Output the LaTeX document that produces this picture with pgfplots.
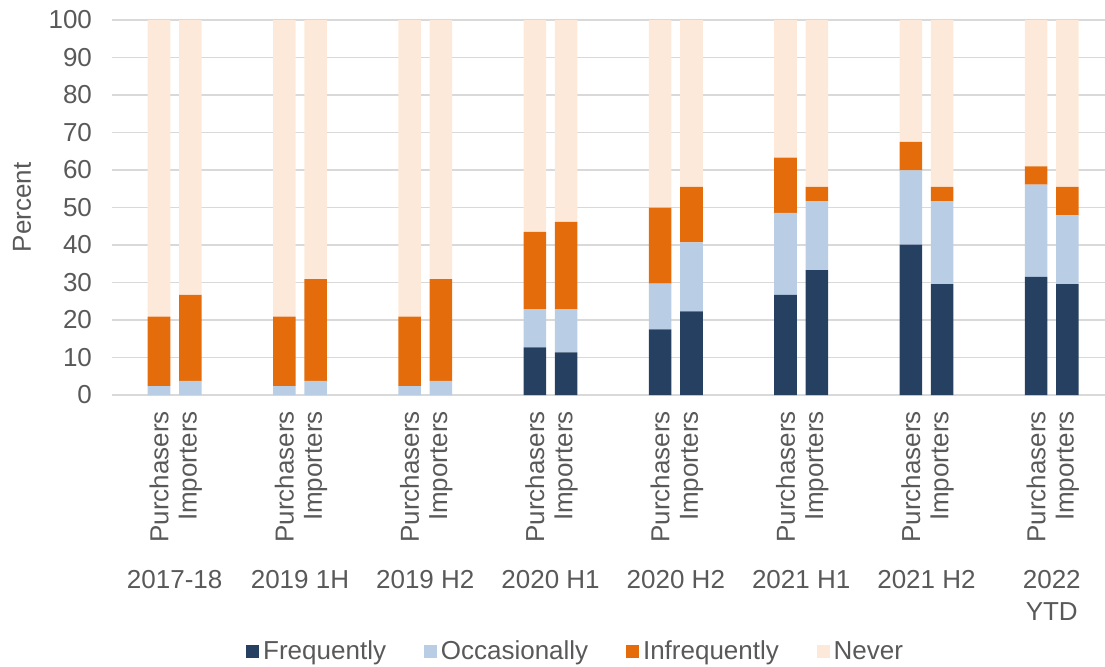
\documentclass[border=0pt]{standalone}
\usepackage{pgfplots}
\pgfplotsset{compat=1.18}
\usepackage{pgfplotstable}
\usepackage{fontspec}
\setmainfont{Liberation Sans}

\definecolor{freqc}{HTML}{264061}
\definecolor{occc}{HTML}{B9CDE5}
\definecolor{infc}{HTML}{E46C0A}
\definecolor{neverc}{HTML}{FDE9D9}
\definecolor{gridc}{HTML}{D9D9D9}
\definecolor{textc}{HTML}{595959}

% x: bar position (group index -/+ 0.125 for purchasers/importers)
\pgfplotstableread{
x      freq  occ   inf   never
-0.125 0     2.4   18.5  79.1
0.125  0     3.8   22.9  73.3
0.875  0     2.4   18.5  79.1
1.125  0     3.8   27.1  69.1
1.875  0     2.4   18.5  79.1
2.125  0     3.8   27.1  69.1
2.875  12.7  10.2  20.6  56.5
3.125  11.4  11.5  23.3  53.8
3.875  17.5  12.2  20.3  50.0
4.125  22.3  18.4  14.8  44.5
4.875  26.7  21.9  14.7  36.7
5.125  33.3  18.4  3.8   44.5
5.875  40.1  19.8  7.6   32.5
6.125  29.6  22.1  3.8   44.5
6.875  31.5  24.6  4.9   39.0
7.125  29.6  18.3  7.6   44.5
}\data

\begin{document}
\begin{tikzpicture}[font=\fontsize{13}{16}\selectfont]
\begin{axis}[
  scale only axis,
  width=496.5pt, height=187.5pt,
  xmin=-0.5, xmax=7.425, ymin=0, ymax=100,
  ybar stacked, bar width=0.18,
  clip=false,
  axis line style={draw=none},
  major tick length=0pt,
  ymajorgrids,
  grid style={gridc, line width=0.75pt},
  ytick={0,10,...,100},
  xtick={-0.125,0.125,0.875,1.125,1.875,2.125,2.875,3.125,3.875,4.125,4.875,5.125,5.875,6.125,6.875,7.125},
  xticklabels={Purchasers,Importers,Purchasers,Importers,Purchasers,Importers,Purchasers,Importers,Purchasers,Importers,Purchasers,Importers,Purchasers,Importers,Purchasers,Importers},
  xticklabel style={rotate=90, anchor=east, text=textc, font=\fontsize{13}{16}\selectfont},
  xticklabel shift=4.5pt,
  yticklabel style={text=textc, font=\fontsize{13}{16}\selectfont},
  yticklabel shift=6.5pt,
  /pgf/number format/assume math mode=true,
  legend columns=4,
  legend style={at={(0.468,-0.685)}, anchor=center, draw=none, fill=none,
    text=textc, font=\fontsize{13}{16}\selectfont,
    /tikz/every even column/.append style={column sep=17pt}},
  legend image code/.code={\fill[#1] (0pt,-3.2pt) rectangle (6.4pt,3.2pt);},
]
\addplot[fill=freqc, draw=none] table[x=x, y=freq] {\data};
\addplot[fill=occc, draw=none] table[x=x, y=occ] {\data};
\addplot[fill=infc, draw=none] table[x=x, y=inf] {\data};
\addplot[fill=neverc, draw=none] table[x=x, y=never] {\data};
\legend{Frequently, Occasionally, Infrequently, Never}

\node[anchor=north, align=center, inner sep=0pt, text=textc] at (axis cs:0,-46.7) {2017-18};
\node[anchor=north, align=center, inner sep=0pt, text=textc] at (axis cs:1,-46.7) {2019 1H};
\node[anchor=north, align=center, inner sep=0pt, text=textc] at (axis cs:2,-46.7) {2019 H2};
\node[anchor=north, align=center, inner sep=0pt, text=textc] at (axis cs:3,-46.7) {2020 H1};
\node[anchor=north, align=center, inner sep=0pt, text=textc] at (axis cs:4,-46.7) {2020 H2};
\node[anchor=north, align=center, inner sep=0pt, text=textc] at (axis cs:5,-46.7) {2021 H1};
\node[anchor=north, align=center, inner sep=0pt, text=textc] at (axis cs:6,-46.7) {2021 H2};
\node[anchor=north, align=center, inner sep=0pt, text=textc] at (axis cs:7,-46.7) {2022\\YTD};
\node[rotate=90, anchor=center, text=textc] at ([xshift=-45pt]rel axis cs:0,0.5) {Percent};

\coordinate (ll) at (rel axis cs:0,0);
\coordinate (ur) at (rel axis cs:1,1);
\end{axis}
\pgfresetboundingbox
\path ([xshift=-56pt,yshift=-135.5pt]ll) rectangle ([yshift=10pt]ur);
\end{tikzpicture}
\end{document}
